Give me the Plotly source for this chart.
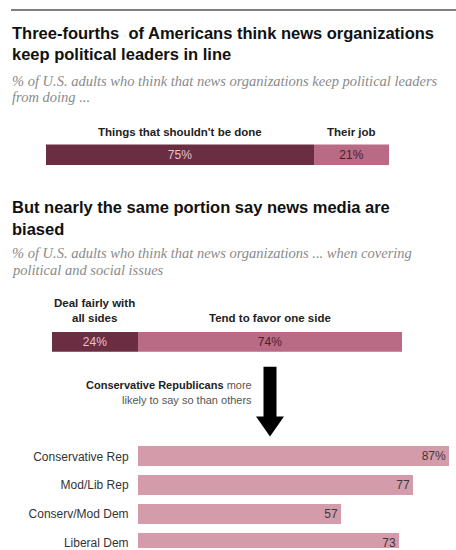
import plotly.graph_objects as go

# ---------------- data ----------------
job_labels = ["Things that shouldn't be done", "Their job"]
job_values = [75, 21]
job_text = ["75%", "21%"]

bias_labels = ["Deal fairly with<br>all sides", "Tend to favor one side"]
bias_values = [24, 74]
bias_text = ["24%", "74%"]

groups = ["Conservative Rep", "Mod/Lib Rep", "Conserv/Mod Dem", "Liberal Dem"]
group_values = [87, 77, 57, 73]
group_text = ["87%", "77", "57", "73"]

# ---------------- styling ----------------
W, H = 456, 550
DARK = "#6b2d42"
MID = "#b96a84"
LIGHT = "#d49bab"
SANS = "Liberation Sans"
SERIF = "Liberation Serif"
PCT_PER_PX = 357 / 100  # pixels per percentage point


def px(x):
    return x / W


def py(y):
    return 1 - y / H


fig = go.Figure()

# top stacked bar
for val, txt, col, tcol in zip(job_values, job_text, [DARK, MID], ["#e6c3ce", "#4a1f2e"]):
    fig.add_trace(go.Bar(
        x=[val], y=[0], orientation="h", width=1, marker=dict(color=col, line=dict(width=0)),
        text=[txt], textposition="inside", insidetextanchor="middle",
        textfont=dict(family=SANS, size=12, color=tcol), xaxis="x", yaxis="y",
        hoverinfo="skip"))

# second stacked bar
for val, txt, col, tcol in zip(bias_values, bias_text, [DARK, MID], ["#e6c3ce", "#4a1f2e"]):
    fig.add_trace(go.Bar(
        x=[val], y=[0], orientation="h", width=1, marker=dict(color=col, line=dict(width=0)),
        text=[txt], textposition="inside", insidetextanchor="middle",
        textfont=dict(family=SANS, size=12, color=tcol), xaxis="x2", yaxis="y2",
        hoverinfo="skip"))

# group bars
fig.add_trace(go.Bar(
    x=group_values, y=groups, orientation="h", width=20 / 29,
    marker=dict(color=LIGHT, line=dict(width=0)),
    text=group_text, textposition="inside", insidetextanchor="end",
    textfont=dict(family=SANS, size=12, color="#3a3a3a"), xaxis="x3", yaxis="y3",
    hoverinfo="skip"))

# ---------------- annotations ----------------
ann = []


def text(x, y, s, size, color, family=SANS, xanchor="left", xref="paper"):
    ann.append(dict(x=x, y=py(y), xref=xref, yref="paper", text=s, showarrow=False,
                    xanchor=xanchor, yanchor="middle",
                    font=dict(family=family, size=size, color=color)))


TS = 16.5   # title size
SS = 14.5   # subtitle size
LS = 11.5   # label size
text(px(10), 33, "<b>Three-fourths\u00a0 of Americans think news organizations</b>", TS, "#111")
text(px(10), 54, "<b>keep political leaders in line</b>", TS, "#111")
text(px(10), 81, "<i>% of U.S. adults who think that news organizations keep political leaders</i>", SS, "#8a8a8a", SERIF)
text(px(10), 97, "<i>from doing ...</i>", SS, "#8a8a8a", SERIF)

cum = 0
for lab, val in zip(job_labels, job_values):
    text(cum + val / 2, 132, "<b>" + lab + "</b>", LS, "#222", xanchor="center", xref="x")
    cum += val

text(px(10), 208, "<b>But nearly the same portion say news media are</b>", TS, "#111")
text(px(10), 229.5, "<b>biased</b>", TS, "#111")
text(px(10), 254, "<i>% of U.S. adults who think that news organizations ... when covering</i>", SS, "#8a8a8a", SERIF)
text(px(10), 271, "<i>political and social issues</i>", SS, "#8a8a8a", SERIF)

cum = 0
for lab, val in zip(bias_labels, bias_values):
    lines = lab.split("<br>")
    for i, ln in enumerate(lines):
        yy = 319 - 15 * (len(lines) - 1 - i)
        text(cum + val / 2, yy, "<b>" + ln + "</b>", LS, "#222", xanchor="center", xref="x2")
    cum += val

text(px(254), 386, "<b>Conservative Republicans</b> <span style='color:#555'>more</span>", 11, "#222", xanchor="right")
text(px(254), 401, "likely to say so than others", 11, "#555", xanchor="right")

# ---------------- shapes ----------------
shapes = [
    dict(type="line", xref="paper", yref="paper", x0=px(11), x1=1, y0=py(10), y1=py(10),
         line=dict(color="#555", width=1.5)),
    dict(type="path", xref="paper", yref="paper", fillcolor="#000", line=dict(width=0),
         path=(f"M {px(263.5)},{py(368)} L {px(276.5)},{py(368)} L {px(276.5)},{py(418)} "
               f"L {px(284)},{py(418)} L {px(270)},{py(438)} L {px(256)},{py(418)} "
               f"L {px(263.5)},{py(418)} Z")),
]

axis_off = dict(visible=False, fixedrange=True)
fig.update_layout(
    width=W, height=H, autosize=False, margin=dict(l=0, r=0, t=0, b=0),
    paper_bgcolor="white", plot_bgcolor="white",
    barmode="stack", showlegend=False, bargap=0,
    font=dict(family=SANS),
    xaxis=dict(domain=[px(46), px(46 + 357)], range=[0, 100], **axis_off),
    yaxis=dict(domain=[py(166), py(145)], range=[-0.5, 0.5], **axis_off),
    xaxis2=dict(domain=[px(52), px(52 + 357)], range=[0, 100], anchor="y2", **axis_off),
    yaxis2=dict(domain=[py(353), py(333)], range=[-0.5, 0.5], anchor="x2", **axis_off),
    xaxis3=dict(domain=[px(138), 1], range=[0, (W - 138) / PCT_PER_PX], anchor="y3", **axis_off),
    yaxis3=dict(domain=[0, py(443.5)], anchor="x3", type="category",
                categoryarray=groups, categoryorder="array",
                range=[-0.5 + (H - 443.5) / 29, -0.5],
                showgrid=False, zeroline=False, showline=False,
                ticks="outside", ticklen=6, tickcolor="rgba(0,0,0,0)",
                tickfont=dict(family=SANS, size=12, color="#333"), fixedrange=True),
    annotations=ann, shapes=shapes,
)

fig.write_html(
    "out.html",
    config={"displayModeBar": False, "responsive": False},
    default_width="456px", default_height="550px",
    post_script="document.body.style.margin='0';document.body.style.overflow='hidden';",
)
